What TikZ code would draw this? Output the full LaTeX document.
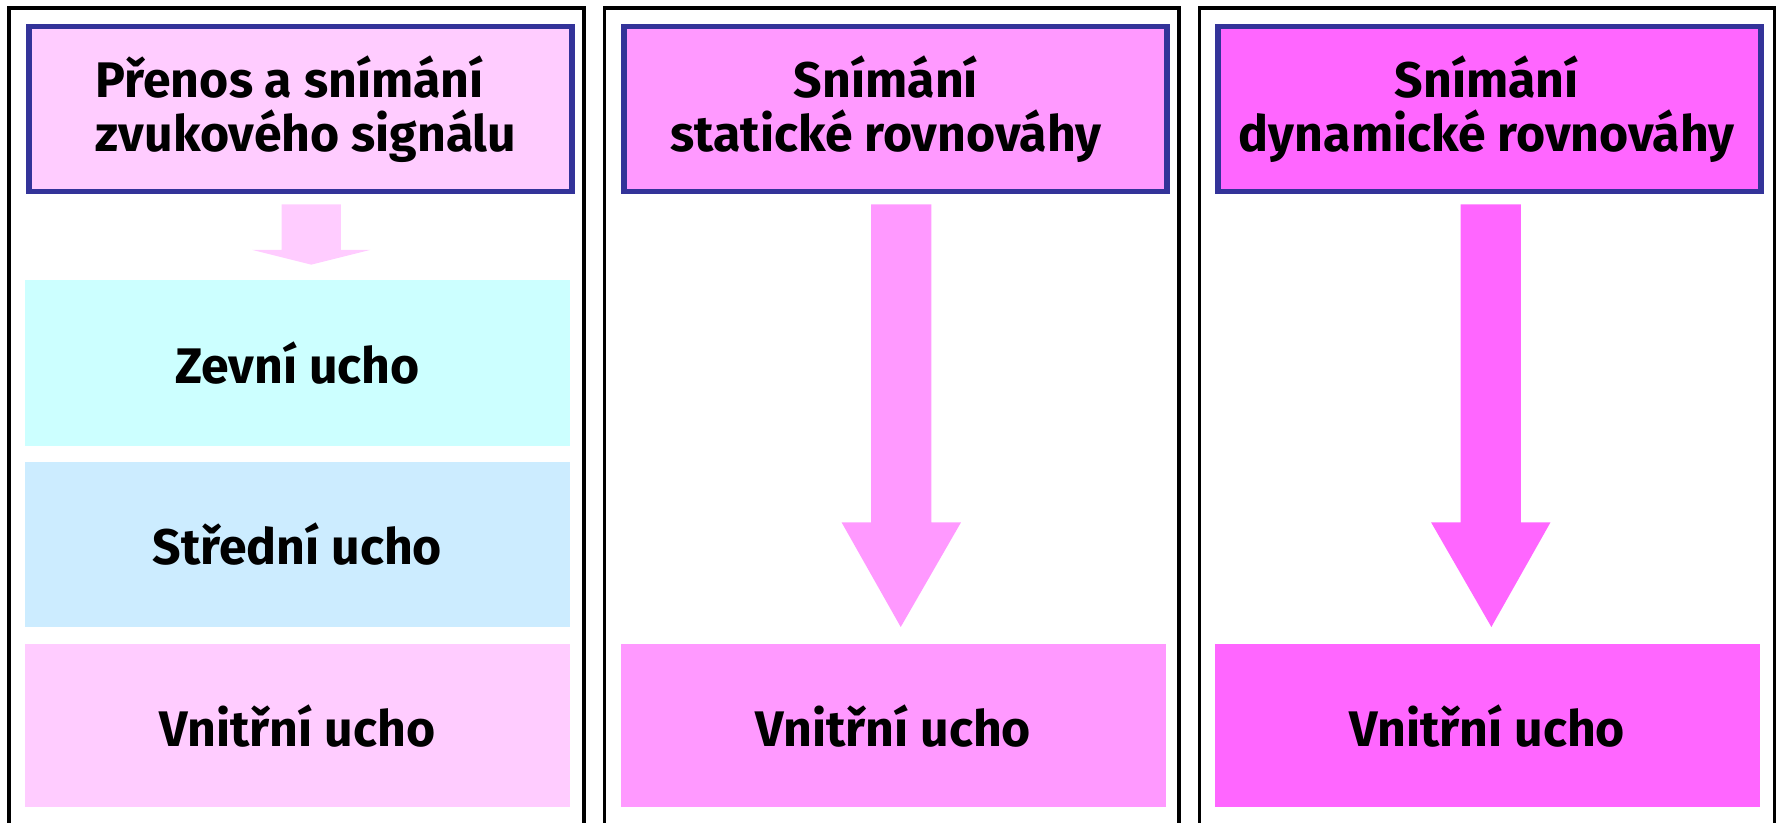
\documentclass[tikz,border=0pt]{standalone}
\usepackage{fontspec}
\setmainfont{Fira Sans}
\definecolor{hdrborder}{HTML}{333399}
\definecolor{pinkA}{HTML}{FFCCFF}
\definecolor{pinkB}{HTML}{FF99FF}
\definecolor{pinkC}{HTML}{FF66FF}
\definecolor{cyanA}{HTML}{CCFFFF}
\definecolor{blueA}{HTML}{CCECFF}
\begin{document}
\begin{tikzpicture}[x=0.5pt,y=-0.5pt,
  frame/.style={draw=black,line width=1.5pt},
  hdr/.style={draw=hdrborder,line width=2.4pt,inner sep=0pt,minimum width=239pt,minimum height=72.5pt,anchor=north west},
  part/.style={draw=none,inner sep=0pt,minimum width=239.5pt,minimum height=73pt,anchor=north west},
  txt/.style={font=\bfseries\fontsize{22}{24}\selectfont,inner sep=0pt},
  barrow/.style={draw=none}]
\useasboundingbox (0,0) rectangle (1568,724);
% frames
\draw[frame] (8,730) -- (8,7) -- (514,7) -- (514,730);
\draw[frame] (532,730) -- (532,7) -- (1038,7) -- (1038,730);
\draw[frame] (1056,730) -- (1056,7) -- (1562,7) -- (1562,730);
% headers
\node[hdr,fill=pinkA] (h1) at (23,21) {};
\node[hdr,fill=pinkB] (h2) at (547,21) {};
\node[hdr,fill=pinkC] (h3) at (1070,21) {};
\node[txt,align=left,anchor=west] (t1) at (84,96) {Přenos a snímání\\zvukového signálu};
\node[txt,align=center] (t2) at (780,96) {Snímání\\statické rovnováhy};
\node[txt,align=center] (t3) at (1309,96) {Snímání\\dynamické rovnováhy};
% parts panel 1
\node[part,fill=cyanA] (z1) at (22,246) {};
\node[txt] at (z1.center) {Zevní ucho};
\node[part,fill=blueA] (s1) at (22,406) {};
\node[txt] at (s1.center) {Střední ucho};
\node[part,fill=pinkA,minimum height=71.5pt] (v1) at (22,567) {};
\node[txt] at (v1.center) {Vnitřní ucho};
\node[part,fill=pinkB,minimum width=240pt,minimum height=71.5pt] (v2) at (546,567) {};
\node[txt] at (v2.center) {Vnitřní ucho};
\node[part,fill=pinkC,minimum width=240pt,minimum height=71.5pt] (v3) at (1069,567) {};
\node[txt] at (v3.center) {Vnitřní ucho};
% block arrows
\fill[pinkA] (248,180) -- (300,180) -- (300,220) -- (326,220) -- (274,233) -- (222,220) -- (248,220) -- cycle;
\fill[pinkB] (767,180) -- (820,180) -- (820,460) -- (846,460) -- (793,552) -- (741,460) -- (767,460) -- cycle;
\fill[pinkC] (1286,180) -- (1339,180) -- (1339,460) -- (1365,460) -- (1313,552) -- (1260,460) -- (1286,460) -- cycle;
\end{tikzpicture}
\end{document}
